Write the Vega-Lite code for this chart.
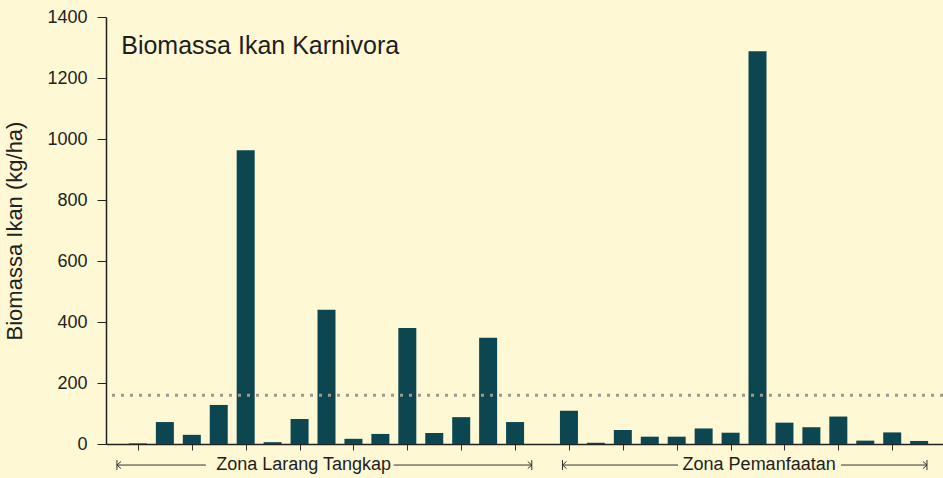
{
  "$schema": "https://vega.github.io/schema/vega-lite/v6.json",
  "width": 837,
  "height": 427,
  "autosize": {"type": "none"},
  "padding": {"left": 106, "top": 17, "right": 0, "bottom": 34},
  "background": "#FEF8D4",
  "config": {"view": {"stroke": null}, "font": "Liberation Sans"},
  "datasets": {
    "bars": [
      {"site": 1, "biomass": 2},
      {"site": 2, "biomass": 72},
      {"site": 3, "biomass": 30},
      {"site": 4, "biomass": 128},
      {"site": 5, "biomass": 963},
      {"site": 6, "biomass": 6},
      {"site": 7, "biomass": 82},
      {"site": 8, "biomass": 440},
      {"site": 9, "biomass": 17},
      {"site": 10, "biomass": 33},
      {"site": 11, "biomass": 380},
      {"site": 12, "biomass": 36},
      {"site": 13, "biomass": 88},
      {"site": 14, "biomass": 348},
      {"site": 15, "biomass": 72},
      {"site": 17, "biomass": 109},
      {"site": 18, "biomass": 4},
      {"site": 19, "biomass": 46},
      {"site": 20, "biomass": 24},
      {"site": 21, "biomass": 24},
      {"site": 22, "biomass": 51},
      {"site": 23, "biomass": 37},
      {"site": 24, "biomass": 1288},
      {"site": 25, "biomass": 70},
      {"site": 26, "biomass": 55},
      {"site": 27, "biomass": 90},
      {"site": 28, "biomass": 11},
      {"site": 29, "biomass": 38},
      {"site": 30, "biomass": 10}
    ],
    "zones": [
      {"zone": "Zona Larang Tangkap", "start": 0.22, "end": 15.62, "mid": 7.15},
      {"zone": "Zona Pemanfaatan", "start": 16.76, "end": 30.29, "mid": 24.06}
    ],
    "segments": [
      {"from": 0.22, "to": 3.52},
      {"from": 10.49, "to": 15.62},
      {"from": 16.76, "to": 21.05},
      {"from": 27.1, "to": 30.29}
    ],
    "threshold": [{"biomass": 160}],
    "heading": [{"label": "Biomassa Ikan Karnivora"}]
  },
  "layer": [
    {
      "data": {"name": "bars"},
      "mark": {"type": "bar", "width": 18, "color": "#0C4651"},
      "encoding": {
        "x": {
          "field": "site",
          "type": "quantitative",
          "scale": {"domain": [0, 30.7], "nice": false, "zero": false},
          "axis": {
            "values": [1,2,3,4,5,6,7,8,9,10,11,12,13,14,15,16,17,18,19,20,21,22,23,24,25,26,27,28,29,30],
            "labels": false,
            "grid": false,
            "title": null,
            "tickSize": 6,
            "tickColor": "#333333",
            "tickWidth": 1,
            "domainColor": "#222222",
            "domainWidth": 1.5
          }
        },
        "y": {
          "field": "biomass",
          "type": "quantitative",
          "scale": {"domain": [0, 1400], "nice": false},
          "axis": {
            "values": [0, 200, 400, 600, 800, 1000, 1200, 1400],
            "format": "d",
            "grid": false,
            "tickSize": 9,
            "tickColor": "#222222",
            "labelPadding": 10,
            "labelFontSize": 18,
            "labelColor": "#222222",
            "title": "Biomassa Ikan (kg/ha)",
            "titleFontSize": 22,
            "titleFontWeight": "normal",
            "titleColor": "#222222",
            "titlePadding": 20,
            "domainColor": "#222222",
            "domainWidth": 1.5
          }
        }
      }
    },
    {
      "data": {"name": "threshold"},
      "mark": {"type": "rule", "color": "#9C9A8E", "strokeWidth": 3, "strokeDash": [3, 6]},
      "encoding": {"y": {"field": "biomass", "type": "quantitative"}}
    },
    {
      "data": {"name": "heading"},
      "mark": {"type": "text", "fontSize": 25, "color": "#1E1E1E", "align": "left", "baseline": "alphabetic"},
      "encoding": {"x": {"datum": 0.38}, "y": {"datum": 1278}, "text": {"field": "label"}}
    },
    {
      "data": {"name": "segments"},
      "mark": {"type": "rule", "color": "#333333", "strokeWidth": 1},
      "encoding": {
        "x": {"field": "from", "type": "quantitative"},
        "x2": {"field": "to"},
        "y": {"datum": -69}
      }
    },
    {
      "data": {"name": "zones"},
      "mark": {"type": "point", "filled": false, "stroke": "#333333", "strokeWidth": 1, "size": 100, "opacity": 1, "shape": "M0,-1L0,1M0.8,-0.7L0,0L0.8,0.7"},
      "encoding": {
        "x": {"field": "start", "type": "quantitative"},
        "y": {"datum": -69}
      }
    },
    {
      "data": {"name": "zones"},
      "mark": {"type": "point", "filled": false, "stroke": "#333333", "strokeWidth": 1, "size": 100, "opacity": 1, "shape": "M0,-1L0,1M-0.8,-0.7L0,0L-0.8,0.7"},
      "encoding": {
        "x": {"field": "end", "type": "quantitative"},
        "y": {"datum": -69}
      }
    },
    {
      "data": {"name": "zones"},
      "mark": {"type": "text", "fontSize": 18, "color": "#1E1E1E", "align": "center", "baseline": "middle"},
      "encoding": {
        "x": {"field": "mid", "type": "quantitative"},
        "y": {"datum": -69},
        "text": {"field": "zone"}
      }
    }
  ]
}
